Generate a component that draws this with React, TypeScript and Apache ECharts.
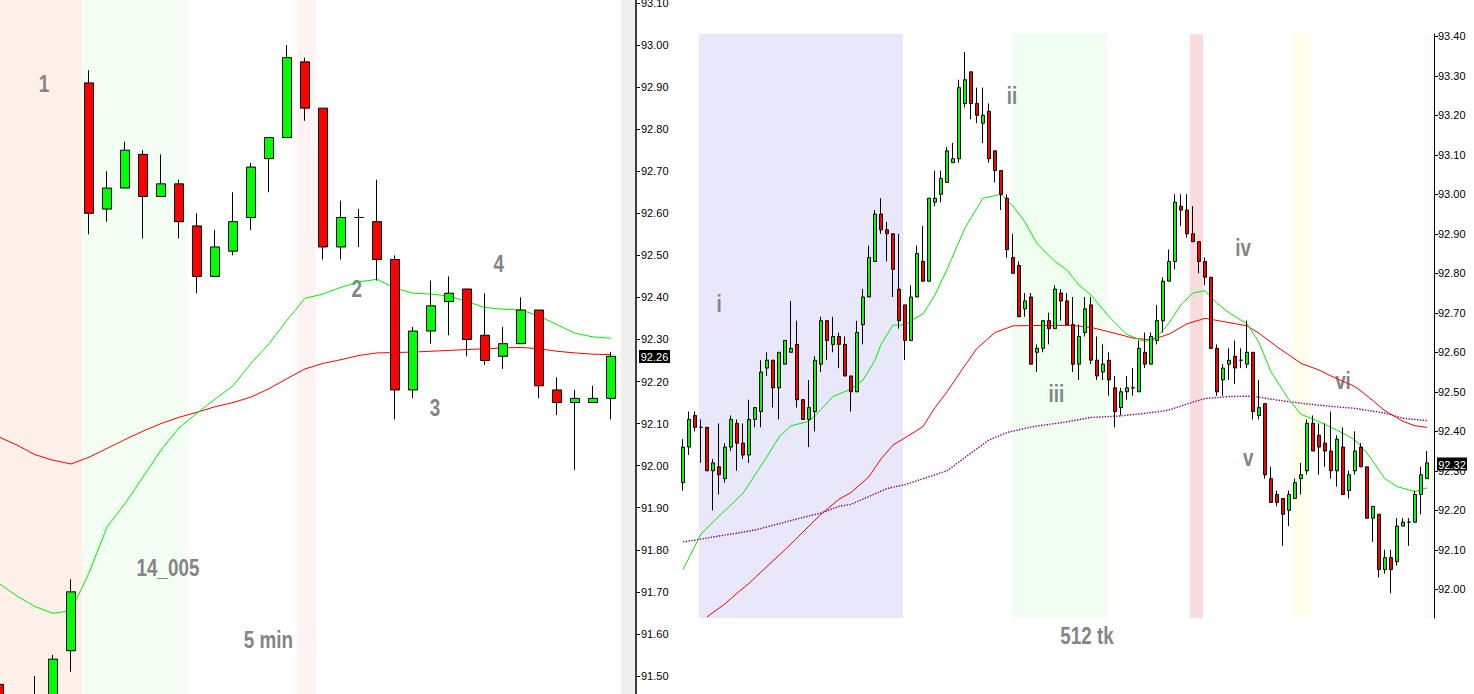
import React, { useEffect, useRef } from "react";
import * as echarts from "echarts";

// ---------- LEFT PANEL (5 min) ----------
// candle: [open, close, low, high]
const leftCandles: number[][] = [
  [91.48, 91.40, 91.38, 91.49],
  [91.38, 91.42, 91.35, 91.44],
  [91.41, 91.44, 91.38, 91.50],
  [91.44, 91.54, 91.42, 91.55],
  [91.56, 91.70, 91.51, 91.73],
  [92.91, 92.60, 92.55, 92.94],
  [92.61, 92.66, 92.58, 92.70],
  [92.66, 92.75, 92.66, 92.77],
  [92.74, 92.64, 92.54, 92.75],
  [92.64, 92.67, 92.64, 92.74],
  [92.67, 92.58, 92.54, 92.68],
  [92.57, 92.45, 92.41, 92.60],
  [92.45, 92.52, 92.45, 92.56],
  [92.51, 92.58, 92.50, 92.65],
  [92.59, 92.71, 92.56, 92.72],
  [92.73, 92.78, 92.65, 92.78],
  [92.78, 92.97, 92.78, 93.00],
  [92.96, 92.85, 92.82, 92.97],
  [92.85, 92.52, 92.49, 92.85],
  [92.52, 92.59, 92.49, 92.63],
  [92.59, 92.59, 92.52, 92.61],
  [92.58, 92.49, 92.44, 92.68],
  [92.49, 92.18, 92.11, 92.50],
  [92.18, 92.32, 92.16, 92.33],
  [92.32, 92.38, 92.29, 92.44],
  [92.39, 92.41, 92.31, 92.45],
  [92.42, 92.30, 92.26, 92.42],
  [92.31, 92.25, 92.24, 92.41],
  [92.26, 92.29, 92.23, 92.33],
  [92.29, 92.37, 92.29, 92.40],
  [92.37, 92.19, 92.16, 92.37],
  [92.18, 92.15, 92.12, 92.21],
  [92.15, 92.16, 91.99, 92.18],
  [92.15, 92.16, 92.15, 92.19],
  [92.16, 92.26, 92.11, 92.27],
];
const leftCategories = leftCandles.map((_, i) => "b" + i);
const leftFastMA = [
  91.72, 91.69, 91.665, 91.649, 91.655, 91.745, 91.854, 91.91, 91.973, 92.037,
  92.09, 92.125, 92.158, 92.19, 92.243, 92.29, 92.346, 92.398, 92.408, 92.424,
  92.437, 92.443, 92.422, 92.41, 92.408, 92.403, 92.39, 92.376, 92.372, 92.37,
  92.356, 92.335, 92.315, 92.306, 92.303,
];
const leftSlowMA = [
  92.068, 92.049, 92.026, 92.013, 92.004, 92.02, 92.041, 92.062, 92.082, 92.1,
  92.115, 92.127, 92.14, 92.15, 92.163, 92.183, 92.207, 92.23, 92.243, 92.252,
  92.262, 92.268, 92.269, 92.27, 92.272, 92.274, 92.276, 92.278, 92.28, 92.281,
  92.278, 92.272, 92.268, 92.265, 92.264,
];
const leftTicks = [91.5, 91.6, 91.7, 91.8, 91.9, 92.0, 92.1, 92.2, 92.3, 92.4, 92.5, 92.6, 92.7, 92.8, 92.9, 93.0, 93.1];
const leftLast = "92.26";

// ---------- RIGHT PANEL (512 tk) ----------
const rightCandles: number[][] = [
  [92.27, 92.36, 92.25, 92.38], [92.36, 92.43, 92.34, 92.45], [92.44, 92.41, 92.40, 92.45], [92.41, 92.41, 92.32, 92.43],
  [92.41, 92.30, 92.30, 92.41], [92.30, 92.32, 92.20, 92.33], [92.31, 92.29, 92.24, 92.42], [92.28, 92.36, 92.27, 92.37],
  [92.36, 92.43, 92.35, 92.44], [92.42, 92.37, 92.30, 92.43], [92.37, 92.34, 92.33, 92.42], [92.34, 92.43, 92.32, 92.48],
  [92.43, 92.46, 92.41, 92.46], [92.45, 92.55, 92.41, 92.58], [92.56, 92.58, 92.54, 92.60], [92.58, 92.51, 92.46, 92.58],
  [92.51, 92.60, 92.43, 92.60], [92.57, 92.63, 92.57, 92.63], [92.60, 92.61, 92.60, 92.73], [92.62, 92.48, 92.46, 92.68],
  [92.48, 92.43, 92.43, 92.48], [92.43, 92.46, 92.36, 92.53], [92.45, 92.58, 92.40, 92.59], [92.57, 92.68, 92.55, 92.69],
  [92.68, 92.63, 92.58, 92.68], [92.62, 92.64, 92.60, 92.69], [92.64, 92.62, 92.56, 92.65], [92.62, 92.54, 92.54, 92.64],
  [92.54, 92.50, 92.45, 92.54], [92.50, 92.65, 92.50, 92.68], [92.67, 92.74, 92.62, 92.76], [92.74, 92.84, 92.74, 92.87],
  [92.83, 92.95, 92.83, 92.96], [92.95, 92.91, 92.90, 92.99], [92.91, 92.90, 92.83, 92.93], [92.90, 92.81, 92.74, 92.90],
  [92.76, 92.68, 92.66, 92.90], [92.72, 92.63, 92.58, 92.72], [92.63, 92.74, 92.63, 92.77], [92.74, 92.85, 92.74, 92.87],
  [92.83, 92.78, 92.78, 92.92], [92.78, 92.99, 92.78, 92.99], [92.98, 92.99, 92.97, 93.06], [93.00, 93.04, 92.98, 93.06],
  [93.03, 93.11, 93.03, 93.12], [93.08, 93.09, 93.08, 93.13], [93.09, 93.27, 93.08, 93.29], [93.23, 93.29, 93.22, 93.36],
  [93.31, 93.23, 93.19, 93.31], [93.23, 93.20, 93.18, 93.27], [93.18, 93.20, 93.13, 93.27], [93.21, 93.09, 93.08, 93.23],
  [93.11, 93.06, 93.03, 93.11], [93.06, 93.00, 92.96, 93.06], [92.99, 92.86, 92.84, 93.00], [92.84, 92.80, 92.80, 92.90],
  [92.82, 92.69, 92.69, 92.83], [92.71, 92.73, 92.69, 92.75], [92.74, 92.57, 92.57, 92.75], [92.60, 92.61, 92.55, 92.62],
  [92.61, 92.68, 92.60, 92.68], [92.68, 92.66, 92.62, 92.70], [92.66, 92.76, 92.66, 92.77], [92.75, 92.73, 92.68, 92.76],
  [92.73, 92.67, 92.67, 92.75], [92.67, 92.57, 92.55, 92.74], [92.57, 92.64, 92.53, 92.67], [92.65, 92.71, 92.64, 92.74],
  [92.72, 92.58, 92.57, 92.74], [92.58, 92.54, 92.53, 92.64], [92.55, 92.57, 92.53, 92.62], [92.58, 92.53, 92.49, 92.60],
  [92.51, 92.45, 92.41, 92.54], [92.46, 92.50, 92.44, 92.51], [92.50, 92.51, 92.48, 92.54], [92.51, 92.51, 92.49, 92.56],
  [92.50, 92.61, 92.50, 92.63], [92.60, 92.57, 92.56, 92.65], [92.57, 92.64, 92.57, 92.65], [92.63, 92.68, 92.62, 92.72],
  [92.68, 92.78, 92.65, 92.79], [92.78, 92.83, 92.78, 92.86], [92.83, 92.98, 92.81, 93.00], [92.97, 92.96, 92.92, 93.00],
  [92.96, 92.90, 92.89, 93.00], [92.90, 92.88, 92.88, 92.97], [92.88, 92.83, 92.80, 92.88], [92.83, 92.79, 92.77, 92.84],
  [92.79, 92.61, 92.61, 92.79], [92.61, 92.50, 92.49, 92.62], [92.53, 92.56, 92.49, 92.57], [92.57, 92.58, 92.53, 92.61],
  [92.59, 92.56, 92.52, 92.63], [92.58, 92.58, 92.56, 92.61], [92.57, 92.60, 92.56, 92.68], [92.60, 92.45, 92.43, 92.60],
  [92.44, 92.46, 92.43, 92.53], [92.47, 92.29, 92.28, 92.47], [92.28, 92.22, 92.22, 92.31], [92.24, 92.22, 92.21, 92.25],
  [92.23, 92.19, 92.11, 92.23], [92.20, 92.24, 92.16, 92.25], [92.23, 92.27, 92.23, 92.28], [92.28, 92.29, 92.24, 92.32],
  [92.30, 92.42, 92.29, 92.43], [92.42, 92.35, 92.35, 92.44], [92.39, 92.36, 92.29, 92.42], [92.37, 92.35, 92.31, 92.42],
  [92.35, 92.30, 92.28, 92.45], [92.30, 92.38, 92.26, 92.39], [92.36, 92.24, 92.24, 92.41], [92.25, 92.29, 92.23, 92.30],
  [92.30, 92.35, 92.29, 92.40], [92.36, 92.31, 92.31, 92.37], [92.31, 92.18, 92.18, 92.31], [92.18, 92.21, 92.12, 92.21],
  [92.19, 92.05, 92.03, 92.19], [92.05, 92.08, 92.04, 92.10], [92.08, 92.05, 91.99, 92.10], [92.07, 92.16, 92.06, 92.18],
  [92.16, 92.17, 92.16, 92.18], [92.17, 92.17, 92.11, 92.18], [92.17, 92.24, 92.17, 92.25], [92.24, 92.29, 92.19, 92.31],
  [92.28, 92.32, 92.28, 92.35],
];
const rightCategories = rightCandles.map((_, i) => "t" + i);
// [bar index, value]
const rightFastMA: number[][] = [
  [0, 92.05], [3, 92.14], [6, 92.185], [10, 92.243], [14, 92.336], [16, 92.385], [18, 92.414], [21, 92.425],
  [23, 92.455], [25, 92.488], [28, 92.507], [30, 92.53], [32, 92.58], [33, 92.62], [35, 92.669], [37, 92.669],
  [38, 92.68], [40, 92.697], [42, 92.745], [44, 92.81], [47, 92.915], [50, 92.99], [53, 93.0], [55, 92.97],
  [57, 92.93], [59, 92.875], [62, 92.83], [64, 92.808], [66, 92.77], [68, 92.745], [71, 92.69], [74, 92.645],
  [77, 92.627], [79, 92.638], [81, 92.674], [83, 92.72], [85, 92.75], [87, 92.756], [89, 92.724], [91, 92.7],
  [94, 92.672], [96, 92.625], [98, 92.55], [101, 92.48], [103, 92.443], [105, 92.431], [108, 92.41], [110, 92.395],
  [112, 92.378], [114, 92.345], [117, 92.28], [119, 92.26], [122, 92.247], [124, 92.257],
];
const rightSlowMA: number[][] = [
  [4, 91.93], [7, 91.963], [9, 91.99], [11, 92.015], [14, 92.058], [17, 92.1], [20, 92.145], [23, 92.19],
  [26, 92.228], [28, 92.245], [31, 92.285], [33, 92.33], [35, 92.365], [38, 92.393], [40, 92.412], [42, 92.46],
  [44, 92.5], [47, 92.567], [49, 92.61], [52, 92.65], [55, 92.667], [60, 92.668], [65, 92.668], [68, 92.663],
  [72, 92.648], [75, 92.636], [78, 92.631], [81, 92.646], [84, 92.672], [87, 92.686], [90, 92.678], [94, 92.667],
  [96, 92.648], [99, 92.614], [103, 92.572], [106, 92.555], [108, 92.54], [112, 92.513], [114, 92.49], [117, 92.452],
  [120, 92.425], [122, 92.414], [124, 92.41],
];
const rightLongMA: number[][] = [
  [0, 92.12], [3, 92.127], [6, 92.135], [9, 92.142], [12, 92.15], [14, 92.158], [17, 92.17], [20, 92.182],
  [23, 92.193], [26, 92.21], [28, 92.215], [31, 92.235], [34, 92.255], [37, 92.265], [40, 92.28], [44, 92.3],
  [48, 92.345], [51, 92.378], [54, 92.397], [58, 92.411], [64, 92.424], [68, 92.435], [73, 92.439], [79, 92.449],
  [81, 92.454], [84, 92.469], [87, 92.483], [91, 92.488], [95, 92.489], [99, 92.479], [103, 92.471], [108, 92.463],
  [112, 92.458], [117, 92.446], [120, 92.433], [124, 92.427],
];
const rightTicks = [92.0, 92.1, 92.2, 92.3, 92.4, 92.5, 92.6, 92.7, 92.8, 92.9, 93.0, 93.1, 93.2, 93.3, 93.4];
const rightLast = "92.32";

const FONT = "'Liberation Sans', Arial, sans-serif";

function note(text: string, x: number, y: number) {
  return {
    type: "text",
    x,
    y,
    scaleX: 0.82,
    z: 1,
    silent: true,
    style: {
      text,
      fill: "#858585",
      fontSize: 23,
      fontWeight: "bold",
      fontFamily: FONT,
      align: "center",
      verticalAlign: "middle",
    },
  };
}

function band(x: number, y: number, w: number, h: number, fill: string, z = 0) {
  return { type: "rect", z, silent: true, shape: { x, y, width: w, height: h }, style: { fill } };
}

function priceBox(text: string, x: number, y: number, w: number) {
  return {
    type: "group",
    z: 10,
    children: [
      { type: "rect", z: 10, shape: { x, y, width: w, height: 13 }, style: { fill: "#000" } },
      {
        type: "text",
        z: 11,
        x: x + w / 2,
        y: y + 7,
        style: { text, fill: "#fff", fontSize: 11, fontFamily: FONT, align: "center", verticalAlign: "middle" },
      },
    ],
  };
}

const candleStyle = {
  color: "#00ff00",
  color0: "#ff0000",
  borderColor: "#000",
  borderColor0: "#000",
  borderColorDoji: "#000",
  borderWidth: 1,
};

const axisLabelBase = {
  fontSize: 11,
  fontFamily: FONT,
  color: "#000",
  formatter: (v: number) => v.toFixed(2),
};

export default function App() {
  const ref = useRef<HTMLDivElement>(null);
  useEffect(() => {
    if (!ref.current) return;
    const chart = echarts.init(ref.current, null, { renderer: "svg", width: 1474, height: 694 });
    const option: any = {
      animation: false,
      backgroundColor: "#ffffff",
      grid: [
        { left: -10, top: 0, width: 630, height: 694, containLabel: false, outerBoundsMode: "none" },
        { left: 680, top: 34, width: 750, height: 584, containLabel: false, outerBoundsMode: "none" },
      ],
      xAxis: [
        { type: "category", gridIndex: 0, data: leftCategories, show: false, boundaryGap: true },
        { type: "category", gridIndex: 1, data: rightCategories, show: false, boundaryGap: true },
      ],
      yAxis: [
        {
          type: "value",
          gridIndex: 0,
          position: "right",
          offset: 16,
          min: 91.4571,
          max: 93.1071,
          z: 5,
          axisLine: { show: true, lineStyle: { color: "#000", width: 1.5 } },
          axisTick: { show: true, length: 4, customValues: leftTicks, lineStyle: { color: "#000" } },
          axisLabel: { ...axisLabelBase, margin: 5, customValues: leftTicks },
          splitLine: { show: false },
        },
        {
          type: "value",
          gridIndex: 1,
          position: "right",
          offset: 4,
          min: 91.9273,
          max: 93.4058,
          z: 5,
          axisLine: { show: true, lineStyle: { color: "#000", width: 1 } },
          axisTick: { show: true, length: 4, customValues: rightTicks, lineStyle: { color: "#000" } },
          axisLabel: { ...axisLabelBase, margin: 4, customValues: rightTicks },
          splitLine: { show: false },
        },
      ],
      graphic: [
        band(0, 0, 82, 694, "#fff0ea"),
        band(82, 0, 106, 694, "#f2fff2"),
        band(297, 0, 18, 694, "#fff2f2"),
        band(621, 0, 15, 694, "#efefef"),
        band(699, 34, 204, 584, "#e8e8fa"),
        band(1012, 34, 95, 584, "#f1fff1"),
        band(1190, 34, 13, 584, "#fadcdc"),
        band(1293, 34, 17, 584, "#ffffec"),
        band(1425, 34, 9, 584, "#fafafa"),
        note("1", 44, 84),
        note("2", 356.7, 288.5),
        note("3", 435, 407.5),
        note("4", 498.7, 263.5),
        note("14_005", 168, 567.5),
        note("5 min", 268.4, 640),
        note("i", 719, 303.7),
        note("ii", 1012, 95.5),
        note("iii", 1056.3, 394),
        note("iv", 1243, 248),
        note("v", 1248.3, 458),
        note("vi", 1343, 381),
        note("512 tk", 1087, 636),
        priceBox(leftLast, 639, 350, 31),
        priceBox(rightLast, 1437, 457.5, 30),
      ],
      series: [
        {
          type: "line",
          xAxisIndex: 0,
          yAxisIndex: 0,
          data: leftSlowMA,
          showSymbol: false,
          z: 1,
          lineStyle: { color: "#ff0000", width: 1 },
        },
        {
          type: "line",
          xAxisIndex: 0,
          yAxisIndex: 0,
          data: leftFastMA,
          showSymbol: false,
          z: 1,
          lineStyle: { color: "#00ee00", width: 1 },
        },
        {
          type: "candlestick",
          xAxisIndex: 0,
          yAxisIndex: 0,
          data: leftCandles,
          barWidth: 10,
          z: 2,
          itemStyle: candleStyle,
        },
        {
          type: "line",
          xAxisIndex: 1,
          yAxisIndex: 1,
          data: rightLongMA,
          showSymbol: false,
          z: 1,
          lineStyle: { color: "#800080", width: 1.4, type: [1.4, 1.4] },
        },
        {
          type: "line",
          xAxisIndex: 1,
          yAxisIndex: 1,
          data: rightSlowMA,
          showSymbol: false,
          z: 1,
          lineStyle: { color: "#ff0000", width: 1 },
        },
        {
          type: "line",
          xAxisIndex: 1,
          yAxisIndex: 1,
          data: rightFastMA,
          showSymbol: false,
          z: 1,
          lineStyle: { color: "#00ee00", width: 1 },
        },
        {
          type: "candlestick",
          xAxisIndex: 1,
          yAxisIndex: 1,
          data: rightCandles,
          barWidth: 3,
          z: 2,
          itemStyle: candleStyle,
        },
      ],
    };
    chart.setOption(option);
    return () => chart.dispose();
  }, []);
  return (
    <div
      ref={ref}
      style={{ position: "fixed", left: 0, top: 0, width: 1474, height: 694, background: "#ffffff" }}
    />
  );
}
